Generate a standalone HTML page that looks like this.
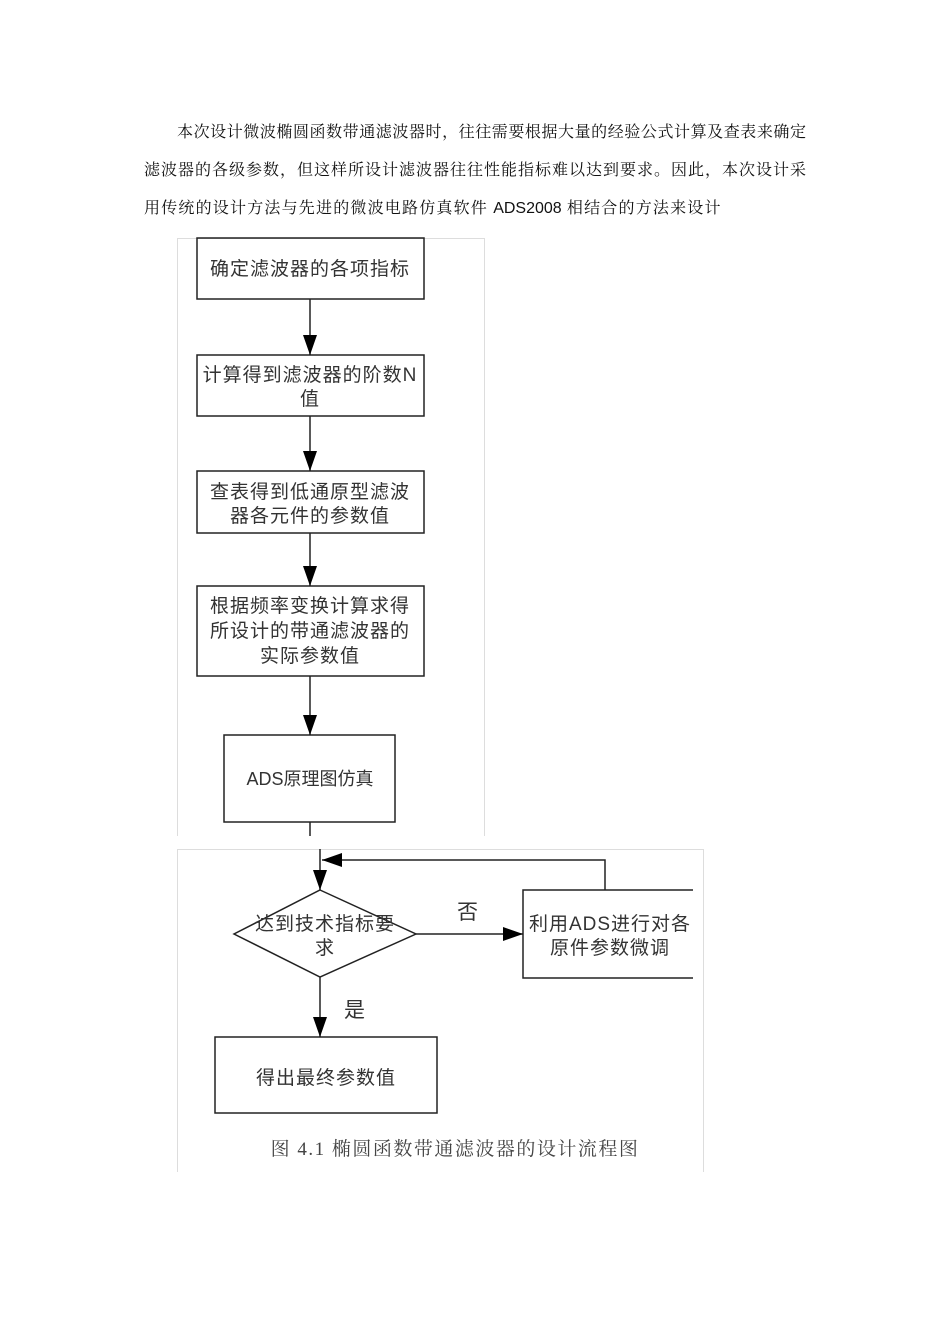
<!DOCTYPE html>
<html><head><meta charset="utf-8"><style>
body{margin:0;background:#fff;width:950px;height:1344px;position:relative;overflow:hidden}
.l{position:absolute;font-family:"Liberation Serif","Noto Serif CJK SC",serif;font-size:16px;color:#111;text-align:justify;text-align-last:justify;white-space:nowrap;line-height:20px}
</style></head><body>
<div class="l" style="left:177px;top:123px;width:629px">本次设计微波椭圆函数带通滤波器时，往往需要根据大量的经验公式计算及查表来确定</div>
<div class="l" style="left:144px;top:161px;width:662px">滤波器的各级参数，但这样所设计滤波器往往性能指标难以达到要求。因此，本次设计采</div>
<div class="l" style="left:144px;top:199px;text-align-last:auto;letter-spacing:1.2px">用传统的设计方法与先进的微波电路仿真软件 <span style="font-family:'Liberation Sans',sans-serif;letter-spacing:0">ADS2008</span> 相结合的方法来设计</div>
<svg width="950" height="1344" style="position:absolute;left:0;top:0" font-family="Liberation Sans,Noto Sans CJK SC,sans-serif" font-size="19" fill="#333">
<defs><marker id="b" markerWidth="22" markerHeight="14" refX="20" refY="7" orient="auto" markerUnits="userSpaceOnUse"><path d="M0,0 L20,7 L0,14z" fill="#000"/></marker></defs>
<g fill="none" stroke="#ddd" stroke-width="1">
<path d="M177.5,836 V238.5 H484.5 V836"/>
<path d="M177.5,1172 V849.5 H703.5 V1172"/>
</g>
<g fill="none" stroke="#222" stroke-width="1.5">
<rect x="197" y="238" width="227" height="61"/>
<rect x="197" y="355" width="227" height="61"/>
<rect x="197" y="471" width="227" height="62"/>
<rect x="197" y="586" width="227" height="90"/>
<rect x="224" y="735" width="171" height="87"/>
<path d="M310,822 V836"/>
<path d="M693,890 H523 V978 H693"/>
<polygon points="320,890 416,934 320,977 234,934"/>
<rect x="215" y="1037" width="222" height="76"/>
<path d="M310,299 V355" marker-end="url(#b)"/>
<path d="M310,416 V471" marker-end="url(#b)"/>
<path d="M310,533 V586" marker-end="url(#b)"/>
<path d="M310,676 V735" marker-end="url(#b)"/>
<path d="M320,849 V890" marker-end="url(#b)"/>
<path d="M605,890 V860 H322" marker-end="url(#b)"/>
<path d="M416,934 H523" marker-end="url(#b)"/>
<path d="M320,977 V1037" marker-end="url(#b)"/>
</g>
<g text-anchor="middle" letter-spacing="1">
<text x="310" y="275">确定滤波器的各项指标</text>
<text x="310" y="381">计算得到滤波器的阶数N</text>
<text x="310" y="405">值</text>
<text x="310" y="498">查表得到低通原型滤波</text>
<text x="310" y="522">器各元件的参数值</text>
<text x="310" y="612">根据频率变换计算求得</text>
<text x="310" y="637">所设计的带通滤波器的</text>
<text x="310" y="662">实际参数值</text>
<text x="310" y="785" font-size="18" letter-spacing="0">ADS原理图仿真</text>
<text x="325" y="930">达到技术指标要</text>
<text x="325" y="954">求</text>
<text x="610" y="930">利用ADS进行对各</text>
<text x="610" y="954">原件参数微调</text>
<text x="468" y="919" font-size="21">否</text>
<text x="355" y="1017" font-size="21">是</text>
<text x="326" y="1084">得出最终参数值</text>
<text x="455" y="1155" font-size="19" letter-spacing="1.5" font-family="Liberation Serif,Noto Serif CJK SC,serif" fill="#444">图 4.1  椭圆函数带通滤波器的设计流程图</text>
</g>
</svg>
</body></html>
